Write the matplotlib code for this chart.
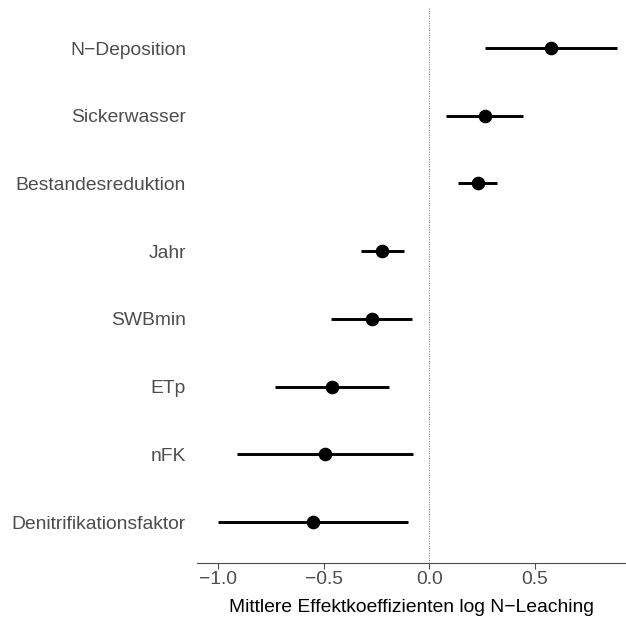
import matplotlib.pyplot as plt

# data
labels = ["Denitrifikationsfaktor", "nFK", "ETp", "SWBmin", "Jahr",
          "Bestandesreduktion", "Sickerwasser", "N\u2212Deposition"]
estimate = [-0.551, -0.493, -0.461, -0.271, -0.224, 0.229, 0.263, 0.574]
lower = [-0.997, -0.910, -0.731, -0.465, -0.324, 0.137, 0.077, 0.263]
upper = [-0.102, -0.076, -0.192, -0.080, -0.120, 0.321, 0.444, 0.886]

xticks = [-1.0, -0.5, 0.0, 0.5]
xticklabels = ["\u22121.0", "\u22120.5", "0.0", "0.5"]

plt.rcParams["font.family"] = ["Liberation Sans", "DejaVu Sans"]

fig = plt.figure(figsize=(6.26, 6.19), dpi=100)
ax = fig.add_axes([197 / 626, 56.3 / 619, 1 - 197 / 626, (562.7 - 7.4) / 619])

ypos = list(range(1, len(labels) + 1))

ax.axvline(0, color="#777777", linestyle=(0, (1, 1.5)), linewidth=0.7, zorder=1)
ax.hlines(ypos, lower, upper, color="black", linewidth=2.1, zorder=2)
ax.plot(estimate, ypos, "o", color="black", markersize=8.8, zorder=3)

ax.set_xlim(-1.098, 0.93)
ax.set_ylim(0.4, 8.6)

ax.set_yticks(ypos)
ax.set_yticklabels(labels, fontsize=13.9, color="#4D4D4D")
ax.tick_params(axis="y", length=0, pad=8)

ax.set_xticks(xticks)
ax.set_xticklabels(xticklabels, fontsize=13.9, color="#4D4D4D")
ax.tick_params(axis="x", length=4, width=0.8, color="#4D4D4D", pad=2)

for side in ["top", "right", "left"]:
    ax.spines[side].set_visible(False)
ax.spines["bottom"].set_color("#4D4D4D")
ax.spines["bottom"].set_linewidth(0.8)

ax.set_xlabel("Mittlere Effektkoeffizienten log N\u2212Leaching", fontsize=13.9,
              color="black", labelpad=8)

fig.savefig("out.png", dpi=100)
